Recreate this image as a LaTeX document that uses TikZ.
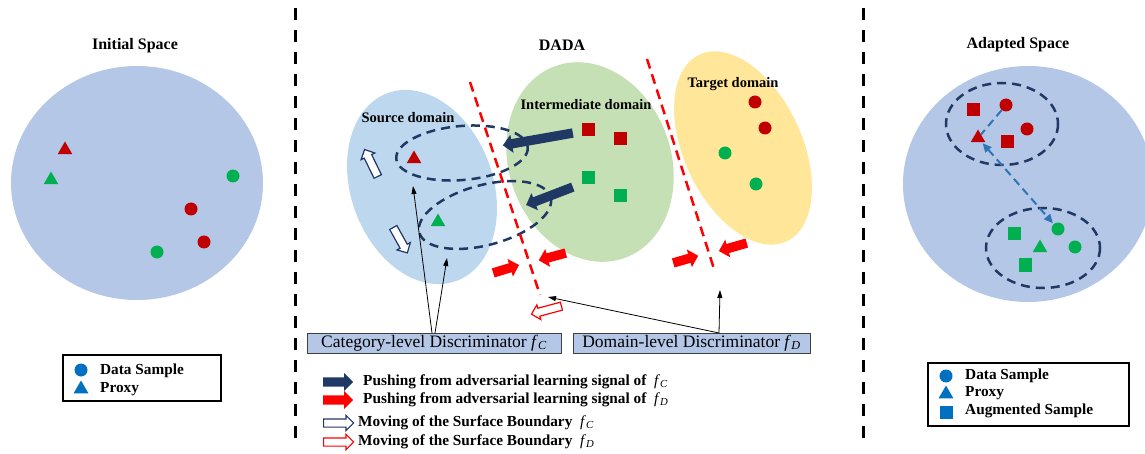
\documentclass[tikz,border=0pt]{standalone}
\usepackage{fontspec}
\setmainfont{Liberation Serif}
\usetikzlibrary{shapes.geometric,shapes.arrows,arrows.meta}
\definecolor{spacebg}{HTML}{B4C7E7}
\definecolor{srcbg}{HTML}{BDD7EE}
\definecolor{midbg}{HTML}{C5E0B4}
\definecolor{tgtbg}{HTML}{FFE699}
\definecolor{dred}{HTML}{C00000}
\definecolor{dgreen}{HTML}{00B050}
\definecolor{lblue}{HTML}{0070C0}
\definecolor{navy}{HTML}{203864}
\definecolor{bred}{HTML}{FF0000}
\definecolor{dashblue}{HTML}{2E75B6}
\begin{document}
\begin{tikzpicture}[x=1pt,y=-1pt,
  dot/.style={circle, fill=#1, inner sep=0pt, minimum size=13pt},
  tri/.style={regular polygon, regular polygon sides=3, fill=#1, inner sep=0pt, minimum size=17pt},
  sq/.style={rectangle, fill=#1, inner sep=0pt, minimum size=13pt},
  title/.style={font=\fontsize{16}{19}\selectfont\bfseries},
  dlbl/.style={font=\fontsize{14.5}{17}\selectfont\bfseries},
  leg/.style={font=\fontsize{15.3}{18}\selectfont\bfseries, anchor=west, inner sep=0pt},
  legbox/.style={draw=black, line width=1.5pt, inner sep=0pt},
  disc/.style={draw=black!75, fill=spacebg, line width=0.8pt, font=\fontsize{17.5}{20}\selectfont, inner sep=0pt, minimum height=20pt},
  divider/.style={black, line width=3pt, dash pattern=on 12pt off 10pt},
  bound/.style={bred, line width=2.5pt, dash pattern=on 10pt off 6pt},
  cls/.style={navy, line width=2.5pt, dash pattern=on 9pt off 6pt},
  ptr/.style={black, line width=0.8pt, -{Triangle[length=8pt,width=5pt]}},
  bluearr/.style={dashblue, line width=2pt, dash pattern=on 8pt off 5pt},
  fat/.style={single arrow, fill=#1, anchor=tail, inner xsep=0pt, inner ysep=4.5pt, single arrow head extend=4.5pt, single arrow tip angle=90},
  hollow/.style={single arrow, draw=#1, fill=white, line width=1.2pt, anchor=tail, inner xsep=0pt, inner ysep=3.5pt, single arrow head extend=3.5pt, single arrow tip angle=90}
]
\useasboundingbox (0,0) rectangle (1145,454);

% dividers
\coordinate (d1a) at (295,8); \coordinate (d1b) at (295,446);
\coordinate (d2a) at (863,8); \coordinate (d2b) at (863,446);
\draw[divider] (d1a) -- (d1b);
\draw[divider] (d2a) -- (d2b);

% ================= Initial space =================
\node[title] (t1) at (135,46) {Initial Space};
\fill[spacebg] (137,183) ellipse [x radius=126, y radius=117];
\node[tri=dred] (i1) at (65,150) {};
\node[tri=dgreen] (i2) at (51,180) {};
\node[dot=dgreen] (i3) at (233,176) {};
\node[dot=dred] (i4) at (191,209) {};
\node[dot=dred] (i5) at (204,242) {};
\node[dot=dgreen] (i6) at (157,252) {};

\node[legbox, minimum width=158pt, minimum height=46pt] (lb1) at (142,378) {};
\node[dot=lblue] (lb1c) at (81,370) {};
\node[leg] (lb1ct) at (100,371) {Data Sample};
\node[tri=lblue] (lb1t) at (81,389) {};
\node[leg] (lb1tt) at (100,389) {Proxy};

% ================= DADA =================
\node[title] (t2) at (562,45) {DADA};
\fill[srcbg, rotate around={-70:(422,187)}] (422,187) ellipse [x radius=100, y radius=71];
\fill[midbg, rotate around={-70:(590,162)}] (590,162) ellipse [x radius=102, y radius=81];
\fill[tgtbg, rotate around={-65:(743,148)}] (743,148) ellipse [x radius=103, y radius=59];

\node[dlbl] (ls) at (408,118) {Source domain};
\node[dlbl] (lm) at (586,105) {Intermediate domain};
\node[dlbl] (lt) at (733,84) {Target domain};

% class loops
\draw[cls, rotate around={5:(462,153)}] (462,153) ellipse [x radius=66, y radius=27];
\draw[cls, rotate around={15:(485,215)}] (485,215) ellipse [x radius=68, y radius=30];

\node[tri=dred] (s1) at (414,159) {};
\node[tri=dgreen] (s2) at (438,222) {};
\node[sq=dred] (m1) at (588,130) {};
\node[sq=dred] (m2) at (620,139) {};
\node[sq=dgreen] (m3) at (588,178) {};
\node[sq=dgreen] (m4) at (620,196) {};
\node[dot=dred] (g1) at (755,102) {};
\node[dot=dred] (g2) at (765,128) {};
\node[dot=dgreen] (g3) at (725,153) {};
\node[dot=dgreen] (g4) at (756,184) {};

% domain boundaries
\coordinate (b1a) at (470,82); \coordinate (b1b) at (540,295);
\coordinate (b2a) at (647,59); \coordinate (b2b) at (715,272);
\draw[bound] (b1a) -- (b1b);
\draw[bound] (b2a) -- (b2b);

% pushing arrows
\node[fat=navy, minimum height=71pt, rotate=-170] (pn1) at (573,133) {};
\node[fat=navy, minimum height=50pt, rotate=-159] (pn2) at (573,187) {};
\node[fat=bred, minimum height=27pt, rotate=17] (pr1) at (493,273) {};
\node[fat=bred, minimum height=28pt, rotate=-165] (pr2) at (566,253) {};
\node[fat=bred, minimum height=26pt, rotate=16] (pr3) at (673,263) {};
\node[fat=bred, minimum height=29pt, rotate=-164] (pr4) at (747,243) {};

% moving arrows
\node[hollow=navy, minimum height=30pt, rotate=116] (hn1) at (378,177) {};
\node[hollow=navy, minimum height=29pt, rotate=-61] (hn2) at (393,227) {};
\node[hollow=bred, minimum height=31pt, rotate=-165] (hr1) at (562,306) {};

% discriminators
\node[disc, minimum width=254pt] (cat) at (434,343) {Category-level Discriminator \textit{f}\textsubscript{\textit{C}}};
\node[disc, minimum width=237pt] (dom) at (691.5,343) {Domain-level Discriminator \textit{f}\textsubscript{\textit{D}}};

\coordinate (c0a) at (432,333); \coordinate (c0b) at (435,333);
\coordinate (ca1) at (413,186); \coordinate (ca2) at (447,258);
\draw[ptr] (c0a) -- (ca1);
\draw[ptr] (c0b) -- (ca2);
\coordinate (d0) at (719,333);
\coordinate (da1) at (548,297); \coordinate (da2) at (720,290);
\draw[ptr] (d0) -- (da1);
\draw[ptr] (d0) -- (da2);

% legend
\node[fat=navy, minimum height=30pt, rotate=0] (lg1) at (323,382) {};
\node[leg] (lg1t) at (363,382) {Pushing from adversarial learning signal of~~\textmd{\textit{f}\textsubscript{\textit{C}}}};
\node[fat=bred, minimum height=30pt, rotate=0] (lg2) at (323,400) {};
\node[leg] (lg2t) at (363,400) {Pushing from adversarial learning signal of~~\textmd{\textit{f}\textsubscript{\textit{D}}}};
\node[hollow=navy, minimum height=30pt, rotate=0] (lg3) at (323,423) {};
\node[leg] (lg3t) at (358,423) {Moving of the Surface Boundary~~\textmd{\textit{f}\textsubscript{\textit{C}}}};
\node[hollow=bred, minimum height=30pt, rotate=0] (lg4) at (323,442) {};
\node[leg] (lg4t) at (358,442) {Moving of the Surface Boundary~~\textmd{\textit{f}\textsubscript{\textit{D}}}};

% ================= Adapted space =================
\node[title] (t3) at (1018,45) {Adapted Space};
\fill[spacebg] (1028,184) ellipse [x radius=125, y radius=118];
\draw[cls] (1002,124) ellipse [x radius=56, y radius=41];
\draw[cls] (1043,248) ellipse [x radius=57, y radius=40];

\node[sq=dred] (a1) at (973,110) {};
\node[dot=dred] (a2) at (1006,105) {};
\node[dot=dred] (a3) at (1027,129) {};
\node[tri=dred] (a4) at (978,138) {};
\node[sq=dred] (a5) at (1007,142) {};
\node[sq=dgreen] (a6) at (1014,234) {};
\node[dot=dgreen] (a7) at (1058,229) {};
\node[tri=dgreen] (a8) at (1040,248) {};
\node[dot=dgreen] (a9) at (1075,247) {};
\node[sq=dgreen] (a10) at (1025,265) {};

\draw[bluearr] (a2) -- (a4);
\draw[bluearr, {Triangle[length=9pt,width=8pt]}-{Triangle[length=9pt,width=8pt]}, shorten <=1pt, shorten >=1pt] (a4) -- (a7);

\node[legbox, minimum width=201pt, minimum height=63pt] (lb2) at (1028.5,394.5) {};
\node[dot=lblue] (lb2c) at (946,376) {};
\node[leg] (lb2ct) at (965,376) {Data Sample};
\node[tri=lblue] (lb2t) at (946,394) {};
\node[leg] (lb2tt) at (965,393) {Proxy};
\node[sq=lblue] (lb2s) at (946,412) {};
\node[leg] (lb2st) at (965,411) {Augmented Sample};
\end{tikzpicture}
\end{document}
